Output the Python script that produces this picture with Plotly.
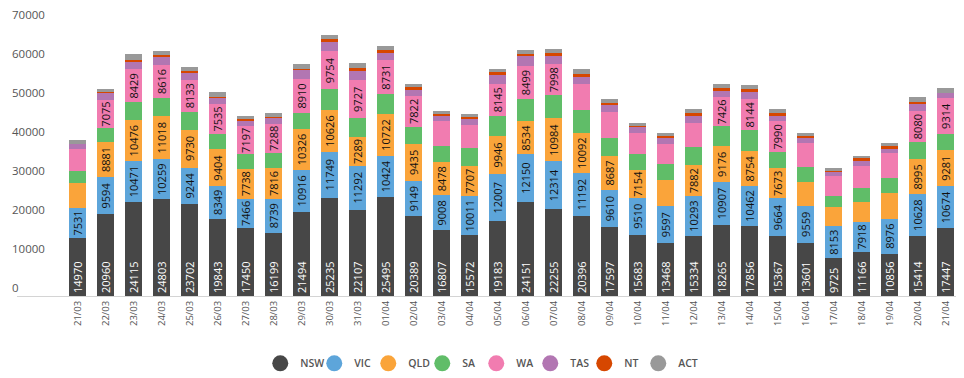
import plotly.graph_objects as go

dates = ['21/03', '22/03', '23/03', '24/03', '25/03', '26/03', '27/03', '28/03', '29/03', '30/03', '31/03',
         '01/04', '02/04', '03/04', '04/04', '05/04', '06/04', '07/04', '08/04', '09/04', '10/04', '11/04',
         '12/04', '13/04', '14/04', '15/04', '16/04', '17/04', '18/04', '19/04', '20/04', '21/04']

NSW = [14970, 20960, 24115, 24803, 23702, 19843, 17450, 16199, 21494, 25235, 22107, 25495, 20389, 16807, 15572, 19183,
       24151, 22255, 20396, 17597, 15683, 13468, 15334, 18265, 17856, 15367, 13601, 9725, 11166, 10856, 15414, 17447]
VIC = [7531, 9594, 10471, 10259, 9244, 8349, 7466, 8739, 10916, 11749, 11292, 10424, 9149, 9008, 10011, 12007,
       12150, 12314, 11192, 9610, 9510, 9597, 10293, 10907, 10462, 9664, 9559, 8153, 7918, 8976, 10628, 10674]
QLD = [6395, 8881, 10476, 11018, 9730, 9404, 7738, 7816, 10326, 10626, 7289, 10722, 9435, 8478, 7707, 9946,
       8534, 10984, 10092, 8687, 7154, 6800, 7882, 9176, 8754, 7673, 5970, 4870, 5130, 6510, 8995, 9281]
SA = [3077, 3675, 4600, 4617, 4617, 4020, 3670, 4020, 4100, 5390, 4870, 5130, 4450, 4100, 4615, 5130,
      5640, 5900, 5900, 4617, 4100, 4100, 4615, 5130, 5390, 4100, 3850, 2820, 3590, 3850, 4360, 4100]
WA = [5640, 7075, 8429, 8616, 8133, 7535, 7197, 7288, 8910, 9754, 9727, 8731, 7822, 6410, 5900, 8145,
      8499, 7998, 6670, 6670, 5390, 5130, 6150, 7426, 8144, 7990, 6150, 5130, 5640, 6410, 8080, 9314]
TAS = [1280, 1880, 2140, 2220, 1800, 1710, 1540, 1620, 2220, 2565, 2565, 2050, 1800, 1540, 1800, 2310,
       2565, 2310, 2050, 1880, 1540, 1540, 2050, 1800, 1710, 1540, 1540, 1280, 1280, 1280, 1800, 1280]
NT = [0, 260, 260, 260, 510, 260, 340, 260, 260, 510, 510, 510, 510, 260, 260, 770,
      510, 510, 510, 510, 260, 510, 510, 510, 770, 510, 260, 260, 600, 510, 510, 0]
ACT = [1025, 855, 1500, 1110, 1030, 1110, 680, 940, 1370, 1030, 1280, 1030, 770, 770, 770, 770,
       1030, 1030, 1280, 940, 770, 770, 1030, 1030, 1030, 1030, 770, 510, 700, 770, 1280, 1280]

y_ticks = [0, 10000, 20000, 30000, 40000, 50000, 60000, 70000]

series = [
    ('NSW', NSW, '#474747', True),
    ('VIC', VIC, '#5DA5DA', True),
    ('QLD', QLD, '#FAA43A', True),
    ('SA', SA, '#60BD68', False),
    ('WA', WA, '#F17CB0', True),
    ('TAS', TAS, '#B276B2', False),
    ('NT', NT, '#D64700', False),
    ('ACT', ACT, '#999999', False),
]

LABEL_MIN = 7000
FONT = 'Open Sans'

fig = go.Figure()
for name, vals, color, labeled in series:
    texts = [str(v) if (labeled and v >= LABEL_MIN) else '' for v in vals]
    fig.add_trace(go.Bar(
        x=dates, y=vals, name=name, marker=dict(color=color, line=dict(width=0)),
        text=texts, textposition='inside', textangle=-90,
        insidetextanchor='start' if name == 'NSW' else 'middle',
        insidetextfont=dict(family=FONT, size=11, color='white' if name == 'NSW' else '#111111'),
        showlegend=False, hoverinfo='x+y+name',
    ))

# legend entries (circle markers)
for name, vals, color, labeled in series:
    fig.add_trace(go.Scatter(
        x=[None], y=[None], mode='markers', name=name,
        marker=dict(symbol='circle', size=16, color=color),
        showlegend=True, hoverinfo='skip',
    ))
# blank spacer entry so the last legend label is not clipped
fig.add_trace(go.Scatter(x=[None], y=[None], mode='markers', name=' ',
                         marker=dict(size=16, color='rgba(0,0,0,0)', line=dict(width=0)),
                         showlegend=True, hoverinfo='skip'))

fig.update_layout(
    width=964, height=378,
    margin=dict(l=9, r=1, t=15, b=90),
    barmode='stack', bargap=0.393,
    plot_bgcolor='white', paper_bgcolor='white',
    font=dict(family=FONT, color='#555555'),
    uniformtext=dict(minsize=10.5, mode='show'),
    xaxis=dict(type='category', range=[-2.16, 31.91], tickangle=-90, automargin=False,
               tickfont=dict(family=FONT, size=9.5, color='#555555'),
               showline=True, linecolor='#d4d4d4', linewidth=1, ticks='', showgrid=False, zeroline=False),
    yaxis=dict(range=[0, 70000], tickvals=y_ticks, tickformat='d', ticklabelposition='inside top',
               ticklabeloverflow='allow', ticklabelstandoff=-8, automargin=False,
               tickfont=dict(family=FONT, size=11.5, color='#555555'),
               showgrid=False, zeroline=False, showline=False, ticks=''),
    legend=dict(orientation='h', x=0.255, xanchor='left', yref='container', y=0.06, yanchor='middle',
                traceorder='normal', entrywidth=9, entrywidthmode='pixels',
                font=dict(family=FONT, size=10.5, color='#555555', weight=600), itemsizing='trace'),
)

fig.write_html('out.html')
